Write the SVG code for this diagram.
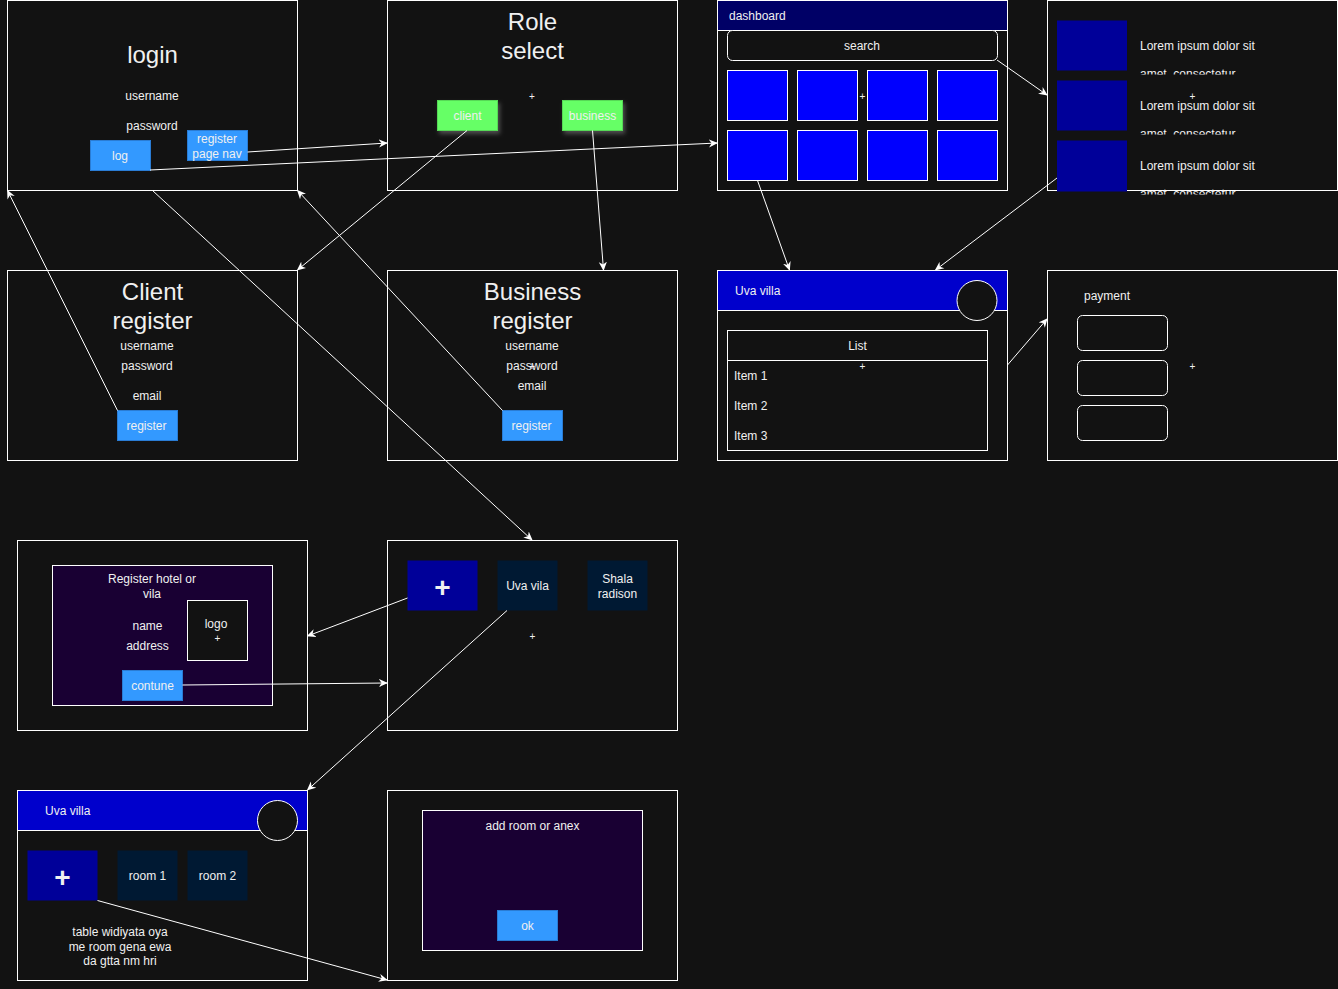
<svg xmlns="http://www.w3.org/2000/svg" width="1338" height="989" viewBox="0 0 1338 989">
<defs>
<style>
.frame{fill:#121212;stroke:#ffffff;stroke-width:1}
.t{font-family:"Liberation Sans",Arial,Helvetica,sans-serif;font-size:12px;fill:#f0f0f0;text-anchor:middle}
.ts{text-anchor:start}
.title{font-size:24px}
.btn{fill:#3399ff;stroke:#2a7cd4;stroke-width:1}
.green{fill:#66ff66;stroke:#57d957;stroke-width:1;filter:url(#glow)}
.blue{fill:#0000ff;stroke:#ffffff;stroke-width:1}
.navy{fill:#000099}
.hdr{fill:#0000cc;stroke:#ffffff;stroke-width:1}
.hotel{fill:#001933}
.purple{fill:#190033;stroke:#ffffff;stroke-width:1}
.box{fill:#121212;stroke:#ffffff;stroke-width:1}
.big{font-size:28px;font-weight:bold}
.conn line{stroke:#ffffff;stroke-width:1;marker-end:url(#arr)}
</style>
<marker id="arr" viewBox="0 0 10 10" refX="9" refY="5" markerWidth="9" markerHeight="9" markerUnits="userSpaceOnUse" orient="auto">
<path d="M0,0.5 L10,5 L0,9.5 L3,5 Z" fill="#ffffff"/>
</marker>
<filter id="glow" x="-30%" y="-30%" width="160%" height="170%">
<feDropShadow dx="2" dy="3" stdDeviation="2" flood-color="#ffffff" flood-opacity="0.25"/>
</filter>
<clipPath id="c1"><rect x="1130" y="55" width="200" height="19.5"/></clipPath>
<clipPath id="c2"><rect x="1130" y="115" width="200" height="19.5"/></clipPath>
<clipPath id="c3"><rect x="1130" y="175" width="200" height="19.5"/></clipPath>
</defs>
<rect x="0" y="0" width="1338" height="989" fill="#121212"/>

<g id="login">
<rect class="frame" x="7.5" y="0.5" width="290" height="190"/>
<text class="t title" x="152.5" y="63">login</text>
<text class="t" x="152" y="100">username</text>
<text class="t" x="152" y="130">password</text>
<rect class="btn" x="90.5" y="140.5" width="60" height="30"/>
<text class="t" x="120" y="160">log</text>
<rect class="btn" x="187.5" y="130.5" width="60" height="30"/>
<text class="t" x="217" y="143">register</text>
<text class="t" x="217" y="157.5">page nav</text>
</g>

<g id="role-select">
<rect class="frame" x="387.5" y="0.5" width="290" height="190"/>
<text class="t title" x="532.5" y="30">Role</text>
<text class="t title" x="532.5" y="59">select</text>
<text class="t" x="532" y="99.5" style="font-size:10px">+</text>
<rect class="green" x="437.5" y="100.5" width="60" height="30"/>
<text class="t" x="467.5" y="120">client</text>
<rect class="green" x="562.5" y="100.5" width="60" height="30"/>
<text class="t" x="592.5" y="120">business</text>
</g>

<g id="dashboard">
<rect class="frame" x="717.5" y="0.5" width="290" height="190"/>
<rect x="717.5" y="0.5" width="290" height="30" fill="#000066" stroke="#ffffff"/>
<text class="t ts" x="729" y="20">dashboard</text>
<rect class="box" x="727.5" y="30.5" width="270" height="30" rx="5"/>
<text class="t" x="862" y="50">search</text>
<rect class="blue" x="727.5" y="70.5" width="60" height="50"/>
<rect class="blue" x="797.5" y="70.5" width="60" height="50"/>
<rect class="blue" x="867.5" y="70.5" width="60" height="50"/>
<rect class="blue" x="937.5" y="70.5" width="60" height="50"/>
<rect class="blue" x="727.5" y="130.5" width="60" height="50"/>
<rect class="blue" x="797.5" y="130.5" width="60" height="50"/>
<rect class="blue" x="867.5" y="130.5" width="60" height="50"/>
<rect class="blue" x="937.5" y="130.5" width="60" height="50"/>
<text class="t" x="862.5" y="99.5" style="font-size:10px">+</text>
</g>

<g id="list-view">
<rect class="frame" x="1047.5" y="0.5" width="290" height="190"/>
<rect class="navy" x="1057" y="20.5" width="70" height="50"/>
<rect class="navy" x="1057" y="80.5" width="70" height="50"/>
<rect class="navy" x="1057" y="140.5" width="70" height="51"/>
<text class="t ts" x="1140" y="50">Lorem ipsum dolor sit</text>
<text class="t ts" x="1140" y="77.5" clip-path="url(#c1)">amet, consectetur</text>
<text class="t ts" x="1140" y="110">Lorem ipsum dolor sit</text>
<text class="t ts" x="1140" y="137.5" clip-path="url(#c2)">amet, consectetur</text>
<text class="t ts" x="1140" y="170">Lorem ipsum dolor sit</text>
<text class="t ts" x="1140" y="197.5" clip-path="url(#c3)">amet, consectetur</text>
<text class="t" x="1192.5" y="99.5" style="font-size:10px">+</text>
</g>

<g id="client-register">
<rect class="frame" x="7.5" y="270.5" width="290" height="190"/>
<text class="t title" x="152.5" y="300">Client</text>
<text class="t title" x="152.5" y="329">register</text>
<text class="t" x="147" y="350">username</text>
<text class="t" x="147" y="370">password</text>
<text class="t" x="147" y="400">email</text>
<rect class="btn" x="117.5" y="410.5" width="60" height="30"/>
<text class="t" x="146.5" y="430">register</text>
</g>

<g id="business-register">
<rect class="frame" x="387.5" y="270.5" width="290" height="190"/>
<text class="t title" x="532.5" y="300">Business</text>
<text class="t title" x="532.5" y="329">register</text>
<text class="t" x="532" y="350">username</text>
<text class="t" x="532" y="370">password</text>
<text class="t" x="532" y="370" style="font-size:10px">+</text>
<text class="t" x="532" y="390">email</text>
<rect class="btn" x="502.5" y="410.5" width="60" height="30"/>
<text class="t" x="531.5" y="430">register</text>
</g>

<g id="uva-villa">
<rect class="frame" x="717.5" y="270.5" width="290" height="190"/>
<rect class="hdr" x="717.5" y="270.5" width="290" height="40"/>
<text class="t ts" x="735" y="295">Uva villa</text>
<circle cx="977" cy="300.5" r="20" fill="#121212" stroke="#ffffff"/>
<rect class="box" x="727.5" y="330.5" width="260" height="120"/>
<line x1="727.5" y1="360.5" x2="987.5" y2="360.5" stroke="#ffffff"/>
<text class="t" x="857.5" y="350">List</text>
<text class="t ts" x="734" y="380">Item 1</text>
<text class="t ts" x="734" y="410">Item 2</text>
<text class="t ts" x="734" y="440">Item 3</text>
<text class="t" x="862.5" y="369.5" style="font-size:10px">+</text>
</g>

<g id="payment">
<rect class="frame" x="1047.5" y="270.5" width="290" height="190"/>
<text class="t ts" x="1084" y="300">payment</text>
<rect class="box" x="1077.5" y="315.5" width="90" height="35" rx="5"/>
<rect class="box" x="1077.5" y="360.5" width="90" height="35" rx="5"/>
<rect class="box" x="1077.5" y="405.5" width="90" height="35" rx="5"/>
<text class="t" x="1192.5" y="369.5" style="font-size:10px">+</text>
</g>

<g id="register-hotel">
<rect class="frame" x="17.5" y="540.5" width="290" height="190"/>
<rect class="purple" x="52.5" y="565.5" width="220" height="140"/>
<text class="t" x="152" y="583">Register hotel or</text>
<text class="t" x="152" y="598">vila</text>
<text class="t" x="147.5" y="630">name</text>
<text class="t" x="147.5" y="650">address</text>
<rect class="box" x="187.5" y="600.5" width="60" height="60"/>
<text class="t" x="216" y="628">logo</text>
<text class="t" x="217.5" y="642" style="font-size:10px">+</text>
<rect class="btn" x="122.5" y="670.5" width="60" height="30"/>
<text class="t" x="152.5" y="690">contune</text>
</g>

<g id="hotels">
<rect class="frame" x="387.5" y="540.5" width="290" height="190"/>
<rect class="navy" x="407.5" y="560.5" width="70" height="50"/>
<text class="t big" x="442.5" y="597">+</text>
<rect class="hotel" x="497.5" y="560.5" width="60" height="50"/>
<text class="t" x="527.5" y="590">Uva vila</text>
<rect class="hotel" x="587.5" y="560.5" width="60" height="50"/>
<text class="t" x="617.5" y="583">Shala</text>
<text class="t" x="617.5" y="598">radison</text>
<text class="t" x="532.5" y="639.5" style="font-size:10px">+</text>
</g>

<g id="uva-villa-rooms">
<rect class="frame" x="17.5" y="790.5" width="290" height="190"/>
<rect class="hdr" x="17.5" y="790.5" width="290" height="40"/>
<text class="t ts" x="45" y="815">Uva villa</text>
<circle cx="277.5" cy="820.5" r="20" fill="#121212" stroke="#ffffff"/>
<rect class="navy" x="27.5" y="850.5" width="70" height="50"/>
<text class="t big" x="62.5" y="887">+</text>
<rect class="hotel" x="117.5" y="850.5" width="60" height="50"/>
<text class="t" x="147.5" y="880">room 1</text>
<rect class="hotel" x="187.5" y="850.5" width="60" height="50"/>
<text class="t" x="217.5" y="880">room 2</text>
<text class="t" x="120" y="936">table widiyata oya</text>
<text class="t" x="120" y="950.5">me room gena ewa</text>
<text class="t" x="120" y="965">da gtta nm hri</text>
</g>

<g id="add-room">
<rect class="frame" x="387.5" y="790.5" width="290" height="190"/>
<rect class="purple" x="422.5" y="810.5" width="220" height="140"/>
<text class="t" x="532.5" y="830">add room or anex</text>
<rect class="btn" x="497.5" y="910.5" width="60" height="30"/>
<text class="t" x="527.5" y="930">ok</text>
</g>

<g id="connectors" class="conn">
<line x1="247.5" y1="152" x2="387" y2="143"/>
<line x1="150" y1="170" x2="717" y2="143"/>
<line x1="467" y1="130.5" x2="297.5" y2="270"/>
<line x1="592.5" y1="130.5" x2="603.5" y2="270"/>
<line x1="117.5" y1="410.5" x2="7.5" y2="190.5"/>
<line x1="502.5" y1="410.5" x2="297.5" y2="190.5"/>
<line x1="152.5" y1="190.5" x2="532" y2="540"/>
<line x1="997" y1="60" x2="1047" y2="95"/>
<line x1="757.5" y1="180.5" x2="789.5" y2="270"/>
<line x1="1057" y1="178" x2="935.5" y2="270"/>
<line x1="1007.5" y1="365" x2="1047" y2="319"/>
<line x1="407.5" y1="598" x2="307.5" y2="636"/>
<line x1="182.5" y1="685" x2="387" y2="683"/>
<line x1="507" y1="610.5" x2="307.5" y2="790"/>
<line x1="97.5" y1="900.5" x2="387" y2="980"/>
</g>
</svg>
